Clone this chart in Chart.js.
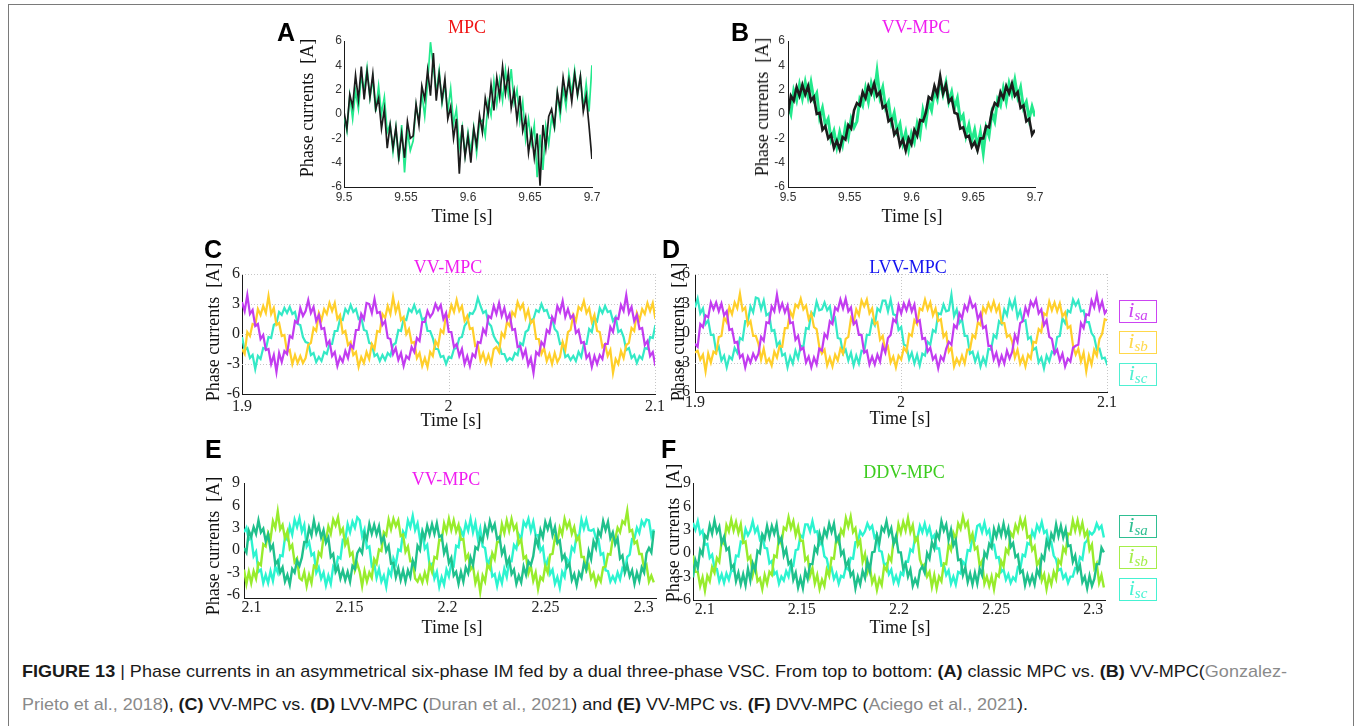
<!DOCTYPE html>
<html><head><meta charset="utf-8">
<script src="https://cdn.jsdelivr.net/npm/chart.js@4.4.1/dist/chart.umd.min.js"></script>
<style>
html,body{margin:0;padding:0;background:#fff;}
body{width:1356px;height:726px;position:relative;overflow:hidden;font-family:'Liberation Sans',Arial,sans-serif;}
#frame{position:absolute;left:8px;top:4px;width:1346px;height:760px;border:1.5px solid #7a7a7a;box-sizing:border-box;}
canvas{position:absolute;}
.lbl{position:absolute;font:bold 25px 'Liberation Sans',Arial,sans-serif;line-height:25px;color:#000;}
.ttl{position:absolute;width:240px;text-align:center;font:18px 'Liberation Serif','Times New Roman',serif;line-height:18px;white-space:nowrap;}
.ytl{position:absolute;font:18px 'Liberation Serif','Times New Roman',serif;line-height:18px;white-space:pre;transform:translate(-50%,-50%) rotate(-90deg);color:#111;}
.xtl{position:absolute;font:18px 'Liberation Serif','Times New Roman',serif;line-height:18px;white-space:nowrap;transform:translate(-50%,-50%);color:#111;}
.leg{position:absolute;width:38px;height:23px;box-sizing:border-box;border:1.5px solid;text-align:center;font:italic 22px 'Liberation Serif',serif;line-height:18px;white-space:nowrap;}
.leg sub{font-size:15px;vertical-align:baseline;position:relative;top:3px;}
.cap{position:absolute;left:22px;font:17px 'Liberation Sans',Arial,sans-serif;line-height:17px;white-space:nowrap;color:#1a1a1a;transform-origin:0 0;}
.ref{color:#8a8a8a;}
</style></head>
<body>
<div id="frame"></div>
<script>
// Panel A/B: time axis 9.5..9.7 s
const A_t0 = 9.5, A_dt = 0.002325;
const A_xTicks = [9.5, 9.55, 9.6, 9.65, 9.7];
const A_xTickLabels = ['9.5', '9.55', '9.6', '9.65', '9.7'];
const A_yTicks = [-6, -4, -2, 0, 2, 4, 6];
const A_yTickLabels = ['-6', '-4', '-2', '0', '2', '4', '6'];
const A_black = [0.2,-1.2,1.6,0.6,3.2,1.2,3.9,1.2,3.5,1.4,3.3,0.4,1.3,-1.2,0.4,-2.8,-0.9,-2.8,-1.1,-3.6,-1.6,-3.6,-0.6,-2.0,
 -1.8,0.8,-0.9,2.3,1.2,3.6,1.5,5.0,1.1,3.3,1.1,2.9,-0.4,0.6,-2.0,-0.4,-4.9,-0.9,-3.5,-1.8,-4.0,-1.2,-2.6,-0.1,
 -1.5,1.3,0.0,2.4,0.3,3.0,1.4,3.9,1.7,3.4,0.5,1.9,-0.5,1.5,-1.4,-0.3,-3.2,-1.5,-3.6,-1.6,-5.9,-0.9,-2.8,-0.2,
 0.4,-1.0,1.8,0.4,3.0,1.4,2.8,1.0,3.3,1.6,3.1,0.2,1.5,-1.0,-3.7];
const A_green = [-0.1,-1.4,1.5,-0.4,1.9,0.4,3.1,1.9,3.8,1.3,2.9,0.2,2.3,0.0,1.4,-1.5,-0.8,-3.1,-1.1,-3.9,-0.9,-4.8,-1.4,-3.0,
 -2.2,0.7,-0.6,1.7,-0.2,2.6,5.9,3.8,1.8,3.6,0.9,2.4,0.2,2.1,-0.8,0.4,-2.7,-1.1,-3.4,-1.5,-3.1,-1.1,-3.2,-0.7,
 -0.5,-1.8,1.0,-0.1,2.7,0.8,2.8,1.1,3.6,1.6,3.7,0.9,2.0,-0.6,1.0,-2.1,-0.4,-2.4,-0.9,-5.2,-1.7,-4.6,-1.0,-2.5,
 -0.3,-1.2,1.7,-0.2,2.1,0.6,3.3,1.7,3.6,1.5,3.1,0.4,2.5,0.2,4.0];
const B_black = [0.0,1.5,1.1,2.2,1.5,2.4,1.6,2.3,1.1,1.4,0.0,0.1,-1.3,-1.0,-2.0,-1.7,-2.8,-2.2,-2.9,-1.9,-2.1,-0.9,-1.2,0.3,
 0.9,0.7,1.8,1.3,2.3,1.7,2.5,1.5,1.8,0.5,0.7,-0.6,-0.4,-1.7,-1.3,-2.6,-2.1,-3.0,-2.0,-2.5,-1.3,-1.8,-0.5,-0.6,
 0.1,1.4,1.2,2.3,1.6,3.1,1.7,2.4,1.0,1.3,0.1,0.0,-1.2,-1.1,-1.9,-1.8,-2.7,-2.3,-3.0,-2.0,-2.0,-1.0,-1.1,0.2,
 0.9,0.7,1.8,1.3,2.3,1.7,2.5,1.5,1.8,0.5,0.7,-0.6,-0.4,-1.7,-1.3];
const B_green = [0.7,0.0,1.9,1.1,2.4,1.3,2.6,1.4,2.6,1.2,1.7,-0.3,0.5,-0.9,-0.4,-2.1,-1.4,-2.7,-1.5,-2.5,-1.0,-1.9,-0.4,-1.1,
 -0.6,1.2,0.7,2.1,1.0,2.5,1.6,3.5,1.4,2.2,0.5,1.0,-0.7,0.1,-1.4,-0.8,-2.4,-1.5,-2.9,-1.6,-2.3,-0.8,-1.7,0.3,
 -0.7,1.0,0.3,1.9,1.2,2.7,1.6,2.6,1.0,1.8,0.5,1.3,-0.5,-0.1,-1.8,-0.9,-2.2,-1.3,-2.7,-1.5,-3.2,-1.1,-1.8,0.1,
 -0.6,1.2,0.7,2.1,1.0,2.5,1.6,2.8,1.4,2.2,0.5,1.0,-0.4,0.6,-0.2];

// Panel C/D: time axis 1.9..2.1 s
const C_t0 = 1.9, C_dt = 0.0012833;
const D_t0 = 1.9, D_dt = 0.0012833;
const CD_xTicks = [1.9, 2, 2.1];
const CD_xTickLabels = ['1.9', '2', '2.1'];
const CD_yTicks = [-6, -3, 0, 3, 6];
const CD_yTickLabels = ['-6', '-3', '0', '3', '6'];
const C_isa = [3.2,2.3,3.9,2.0,2.4,0.8,1.0,-0.5,-0.1,-1.6,-1.5,-3.0,-2.1,-3.8,-1.9,-2.8,-1.7,-2.0,-0.2,-0.4,1.3,1.1,2.6,1.8,
 2.3,3.4,2.1,2.7,1.3,1.9,0.5,0.6,-1.1,-0.7,-2.2,-1.8,-3.2,-2.3,-2.8,-1.7,-2.4,-1.1,-1.4,0.4,0.4,2.0,1.5,3.1,
 3.0,2.1,3.5,2.1,2.2,0.9,1.3,-0.4,-0.5,-2.0,-1.4,-2.6,-1.9,-3.2,-2.2,-2.5,-1.3,-1.8,-0.4,-0.7,1.2,1.2,2.3,1.7,
 2.1,3.0,2.4,2.9,1.5,2.1,0.2,0.2,-1.3,-1.0,-2.2,-1.5,-3.0,-2.2,-3.2,-2.0,-2.3,-0.8,-0.9,0.5,0.0,1.8,1.6,2.8,
 2.0,3.1,1.8,2.6,1.4,2.0,0.4,0.5,-1.3,-1.2,-2.3,-1.6,-3.1,-2.4,-3.9,-1.8,-2.1,-0.8,-1.2,0.4,0.1,1.7,1.2,2.8,
 2.2,3.3,1.7,2.5,1.6,1.9,0.1,0.4,-0.9,-0.8,-2.4,-2.0,-3.3,-2.2,-3.0,-2.1,-2.5,-1.0,-1.0,0.7,0.2,1.6,1.5,2.9,
 2.3,3.9,2.1,2.7,1.3,1.9,0.5,0.6,-1.1,-0.7,-2.2,-1.8,-3.2];
const C_isb = [-1.5,-2.0,0.2,-0.2,1.0,0.9,2.5,1.9,2.8,2.1,3.8,2.0,2.6,0.9,1.1,-0.2,-0.1,-1.8,-1.6,-3.0,-2.1,-2.9,-2.2,-2.9,
 -2.4,-1.1,-0.9,0.6,0.3,2.1,1.4,2.5,2.0,3.1,2.3,3.1,1.5,1.9,0.1,0.3,-1.1,-0.8,-2.1,-1.8,-3.3,-2.3,-2.9,-1.8,
 -2.5,-1.0,-1.5,0.3,0.2,2.0,1.6,2.8,2.0,3.7,2.2,3.0,1.4,1.7,0.0,0.5,-0.9,-0.8,-2.4,-1.9,-3.2,-2.4,-3.3,-1.8,
 -2.2,-0.7,-1.2,0.4,0.1,1.9,1.7,2.9,2.2,3.4,2.3,2.8,1.3,1.8,0.5,0.6,-1.2,-1.1,-2.6,-1.9,-2.9,-2.1,-3.0,-1.5,
 -1.3,-1.8,0.1,-0.3,1.2,0.8,2.2,1.8,3.2,2.5,3.0,1.6,2.4,1.1,1.4,-0.5,-0.5,-2.0,-1.4,-2.7,-2.0,-3.0,-1.9,-2.8,
 -2.3,-0.8,-1.6,0.2,0.4,1.9,1.3,2.7,2.4,3.3,2.1,2.6,1.2,1.9,0.3,0.2,-1.3,-1.0,-2.2,-1.6,-3.9,-2.5,-3.0,-1.7,
 -2.4,-1.1,-0.9,0.6,0.3,2.1,1.4,2.5,2.0,3.1,2.3,3.1,1.5];
const C_isc = [-0.3,-1.6,-1.4,-2.4,-2.1,-3.5,-2.2,-2.5,-1.4,-1.5,-0.3,-0.4,0.9,1.1,2.2,1.9,2.6,2.1,2.7,2.0,2.2,1.0,0.9,-0.3,
 -0.8,-0.9,-2.1,-1.9,-2.8,-2.3,-2.7,-1.8,-2.0,-1.0,-1.0,0.3,0.3,1.5,1.4,2.5,2.1,2.9,2.2,2.5,1.5,1.7,0.4,0.3,
 -0.9,-1.0,-2.2,-2.0,-2.7,-2.1,-2.6,-1.9,-2.2,-1.1,-0.9,0.4,0.3,1.5,1.4,2.5,2.2,2.9,2.1,2.4,1.4,1.6,0.3,0.3,
 -0.4,-1.5,-1.5,-2.3,-2.2,-3.0,-2.3,-2.4,-1.5,-1.4,-0.4,-0.3,0.8,1.2,2.1,2.0,2.5,3.6,2.8,2.1,2.3,1.1,0.8,-0.2,
 -0.7,-1.0,-2.0,-2.0,-2.7,-2.4,-2.6,-1.9,-2.1,-0.9,-1.1,0.2,0.4,1.4,1.5,2.4,2.2,3.0,2.3,2.4,1.6,1.6,0.5,0.2,
 -1.0,-0.9,-2.3,-2.1,-2.6,-2.2,-2.7,-1.8,-2.3,-1.0,-1.0,0.5,0.2,1.6,1.3,2.6,2.1,2.8,2.2,2.3,1.3,1.7,0.2,0.4,
 -0.3,-1.6,-1.4,-2.4,-2.1,-2.9,-2.2,-2.5,-1.4,-1.5,-0.3,-0.4,0.9];
const D_isa = [-1.1,-1.4,0.9,0.6,1.8,1.6,3.1,2.4,3.1,2.2,3.0,1.8,2.2,0.3,0.4,-1.0,-0.9,-2.5,-2.2,-3.5,-2.4,-3.0,-2.1,-2.7,
 -2.1,-0.4,-0.8,1.1,1.0,2.7,2.2,3.9,2.3,3.0,2.1,2.8,1.0,1.1,-0.7,-0.3,-1.7,-1.5,-3.0,-2.4,-3.5,-2.5,-3.2,-1.6,
 -1.8,-0.1,-0.5,1.2,0.9,2.6,2.3,3.4,2.5,3.5,2.2,2.6,0.9,1.2,-0.2,-0.2,-2.0,-1.8,-3.2,-2.4,-3.2,-2.2,-2.9,-1.3,
 -2.0,-0.5,-0.2,1.4,1.1,2.8,2.0,3.0,2.3,3.2,2.2,2.9,1.1,1.3,-0.6,-0.5,-1.9,-1.5,-2.7,-2.3,-3.6,-2.4,-2.8,-1.6,
 -0.9,-1.2,0.8,0.5,2.0,1.5,2.8,2.3,3.5,2.6,2.9,1.4,2.0,0.5,0.7,-1.3,-1.3,-2.7,-2.0,-3.2,-2.3,-3.1,-1.8,-2.6,
 -1.9,-0.2,-0.9,1.0,1.2,2.6,1.9,3.2,2.7,3.4,2.0,2.4,0.8,1.3,-0.4,-0.6,-2.1,-1.7,-2.8,-2.1,-3.4,-2.6,-2.9,-1.5,
 -1.3,-1.2,1.0,0.5,1.9,1.8,3.3,2.6,3.9,2.4,3.2,2.0,2.4];
const D_isb = [-2.0,-1.8,-2.7,-2.2,-3.9,-2.1,-3.0,-1.9,-2.1,-0.4,-0.3,1.6,1.1,2.6,1.9,3.1,2.5,4.0,2.3,2.6,0.8,1.2,-0.3,-0.3,
 -1.1,-2.7,-1.6,-3.0,-2.6,-3.3,-1.9,-2.5,-1.3,-1.4,0.5,0.5,2.2,1.6,2.9,2.6,3.5,2.4,2.8,1.4,2.0,0.6,0.4,-1.4,
 -2.1,-1.7,-3.3,-2.5,-3.4,-2.2,-2.8,-1.6,-2.1,-0.6,-0.4,1.5,1.0,2.4,1.8,3.3,2.7,3.4,2.0,2.5,0.9,1.1,-0.7,-0.3,
 -1.8,-1.4,-3.0,-2.4,-3.5,-2.3,-2.7,-1.5,-1.9,-0.1,-0.3,1.3,0.9,2.5,2.3,3.4,2.4,3.1,1.8,2.5,1.2,1.4,-0.4,0.0,
 -1.9,-1.5,-3.4,-2.6,-3.2,-2.3,-3.1,-1.7,-1.7,-0.2,-0.5,1.1,0.8,2.6,2.1,3.0,2.3,3.2,2.2,2.8,1.0,1.0,-0.4,-0.2,
 -0.9,-2.5,-1.7,-3.1,-2.4,-3.4,-2.2,-2.6,-0.9,-1.0,0.4,0.1,2.0,1.8,3.2,2.3,3.1,2.2,3.0,1.7,2.1,0.5,0.7,-1.3,
 -2.2,-1.6,-2.9,-2.0,-3.9,-2.3,-3.2,-1.7,-2.3,-0.6,-0.1,1.4,1.3];
const D_isc = [2.6,3.5,2.0,2.5,0.9,1.3,-0.2,-0.2,-1.9,-1.4,-2.8,-2.3,-3.5,-2.4,-2.7,-1.5,-2.0,-0.5,-0.7,1.2,1.2,2.7,2.1,3.6,
 3.5,2.4,3.3,1.8,2.0,0.2,0.3,-1.3,-0.9,-2.3,-2.1,-3.5,-2.4,-3.1,-1.8,-2.6,-1.3,-1.4,0.5,0.4,2.1,1.8,3.2,2.3,
 2.4,3.1,2.3,2.7,1.1,1.5,-0.5,-0.6,-2.1,-1.7,-2.8,-2.0,-3.3,-2.3,-3.1,-1.8,-1.9,-0.2,-0.2,1.3,0.8,2.5,2.2,3.3,
 3.3,2.2,3.4,1.9,1.8,0.3,0.6,-1.2,-1.3,-2.7,-2.0,-3.1,-2.2,-3.3,-2.1,-2.3,-0.9,-1.2,0.3,0.1,2.0,1.9,2.9,2.2,
 2.3,3.9,1.7,2.4,1.0,1.4,-0.3,-0.3,-2.1,-1.9,-2.9,-2.1,-3.4,-2.5,-3.2,-1.6,-1.7,-0.2,-0.5,1.2,0.9,2.4,1.8,3.3,
 2.5,3.4,1.6,2.3,1.2,1.3,-0.6,-0.4,-1.7,-1.5,-3.0,-2.5,-3.6,-2.3,-2.9,-1.9,-2.1,-0.4,-0.3,1.5,1.0,2.3,2.1,3.4,
 2.8,3.3,2.2,2.3,1.1,1.1,0.0,-0.4,-1.7,-1.6,-2.6,-2.5,-3.3];

// Panel E/F: time axis about 2.095..2.306 s
const E_t0 = 2.0962, E_dt = 0.0012292;
const F_t0 = 2.094, F_dt = 0.0012292;
const EF_xTicks = [2.1, 2.15, 2.2, 2.25, 2.3];
const EF_xTickLabels = ['2.1', '2.15', '2.2', '2.25', '2.3'];
const EF_yTicks = [-6, -3, 0, 3, 6, 9];
const EF_yTickLabels = ['-6', '-3', '0', '3', '6', '9'];
const E_isa = [0.3,-0.3,2.6,1.8,3.1,2.2,4.0,2.4,2.9,1.2,2.1,0.1,0.7,-1.9,-1.4,-3.0,-2.3,-4.2,-3.3,-4.6,-2.5,-3.0,-1.4,-2.1,
 -1.0,1.1,1.1,3.0,2.0,4.0,2.3,3.3,1.7,2.7,1.0,1.7,-0.9,-0.5,-2.9,-2.2,-3.8,-2.7,-4.0,-2.9,-4.2,-2.1,-2.5,-0.4,
 0.2,-0.4,2.2,1.5,3.5,2.2,3.4,2.1,3.2,1.1,1.8,-0.1,0.6,-1.8,-1.7,-3.6,-2.4,-4.0,-2.7,-4.2,-2.7,-3.6,-1.4,-2.3,
 0.6,0.0,2.5,1.6,3.3,2.1,3.5,2.2,3.6,1.8,2.0,-0.4,0.5,-1.7,-1.0,-3.4,-2.9,-4.5,-2.9,-4.2,-2.3,-3.1,-1.0,-2.0,
 0.4,0.1,1.7,1.2,3.2,2.0,3.9,2.7,3.5,1.5,1.8,-0.5,0.3,-1.9,-1.1,-3.2,-2.6,-4.5,-3.4,-4.3,-2.2,-3.3,-1.5,-2.0,
 -0.8,1.6,0.6,2.7,1.7,3.8,2.8,3.9,2.0,3.1,1.0,1.3,-1.2,-0.6,-2.3,-1.8,-4.0,-3.2,-4.7,-3.0,-3.7,-1.8,-2.6,-0.1,
 -1.2,1.2,0.3,2.6,1.9,3.9,2.7,3.8,1.6,2.4,0.8,1.6,-1.1,-0.7,-3.0,-2.0,-3.5,-2.7,-4.5,-3.0,-4.1,-2.3,-3.0,-0.4,
 0.3,-0.3,2.6];
const E_isb = [-2.6,-4.5,-2.9,-4.4,-2.8,-3.8,-1.7,-2.0,0.8,0.5,2.3,1.5,3.9,3.0,5.2,2.8,3.4,1.6,2.5,0.2,0.7,-1.6,-1.1,-3.7,
 -4.0,-2.9,-4.8,-3.3,-4.4,-2.1,-2.4,-0.3,-0.8,1.8,1.3,3.2,2.2,4.1,3.3,4.4,2.3,2.9,0.7,1.4,-0.7,-0.3,-2.7,-1.8,
 -2.9,-4.8,-2.8,-4.2,-3.0,-3.7,-1.2,-1.8,0.1,-0.1,2.4,2.0,4.1,2.8,4.2,3.2,4.0,1.9,2.1,-0.2,0.5,-1.5,-1.5,-3.8,
 -4.2,-3.4,-4.3,-3.0,-4.1,-1.9,-2.9,-0.9,-1.1,1.4,1.3,3.6,2.5,4.2,2.7,4.0,2.5,3.4,1.4,1.5,-1.2,-0.6,-2.6,-2.1,
 -4.4,-3.3,-5.6,-3.4,-4.2,-2.0,-2.5,-0.4,-1.2,1.1,1.1,3.5,2.3,4.0,2.6,4.2,2.8,3.4,0.9,1.4,-1.1,-0.8,-3.1,-2.1,
 -4.1,-3.0,-5.2,-3.6,-4.0,-2.1,-3.0,-0.6,-0.5,1.7,1.0,3.0,2.1,4.2,3.0,3.8,2.2,3.1,1.3,1.8,-0.9,-0.9,-2.7,-2.0,
 -3.8,-3.1,-4.6,-3.5,-4.2,-2.3,-2.2,-0.5,-0.6,1.6,1.5,3.0,2.4,3.9,3.5,5.3,2.5,2.7,0.9,1.2,-0.5,-0.5,-2.5,-2.0,
 -4.2,-3.4,-4.3];
const E_isc = [2.4,3.0,1.4,1.7,-0.8,-0.2,-2.9,-2.6,-4.4,-3.3,-4.4,-2.8,-4.1,-2.2,-3.0,-0.7,-0.8,1.7,1.4,3.2,2.1,4.1,3.1,4.3,
 2.5,3.4,0.5,1.1,-0.7,-0.4,-3.0,-2.3,-3.8,-3.0,-4.7,-3.4,-4.5,-2.2,-2.7,-0.9,-1.1,1.4,1.3,3.5,2.4,3.8,3.0,4.4,
 4.0,1.9,2.8,0.3,0.5,-2.1,-1.7,-3.7,-2.5,-4.2,-3.4,-4.9,-2.7,-3.4,-1.1,-1.9,0.1,-0.1,2.5,1.9,4.0,3.1,4.6,2.7,
 3.6,1.5,2.5,0.2,0.7,-2.0,-1.8,-3.8,-2.9,-4.9,-3.6,-4.6,-2.6,-3.5,-1.8,-2.1,0.6,0.4,2.7,1.9,3.6,2.6,4.2,2.4,
 3.7,1.6,2.9,0.5,0.3,-2.0,-1.2,-3.5,-3.2,-4.8,-3.3,-4.4,-2.5,-3.6,-1.5,-1.5,0.7,0.2,2.1,1.5,3.8,3.2,4.2,2.6,
 3.8,2.0,2.0,-0.1,0.4,-2.2,-1.3,-3.2,-2.6,-4.5,-3.6,-5.0,-2.9,-3.6,-1.2,-1.7,0.4,-0.1,2.0,1.8,4.1,2.9,4.1,2.7,
 2.6,2.8,1.6,1.5,-0.6,-0.4,-2.7,-2.8,-4.2,-3.5,-4.2,-3.0,-3.9,-2.4,-2.8,-0.9,-0.6,1.5,1.6,3.0,2.3,3.9,3.3,4.1,
 4.0,1.9,2.8];
const F_isa = [-3.1,-0.9,-1.9,0.4,-0.2,2.3,1.9,3.6,2.5,4.2,2.7,3.4,1.3,2.1,0.4,0.7,-1.9,-1.5,-3.6,-2.5,-4.0,-2.7,-4.1,-2.0,
 -3.5,-1.3,-2.2,0.3,0.0,2.4,1.8,3.5,2.1,3.5,2.5,3.7,1.4,2.0,-0.3,0.5,-1.4,-1.0,-3.4,-2.5,-4.4,-3.2,-4.5,-2.3,
 -3.3,-1.4,-1.4,0.7,0.1,2.5,1.4,3.0,2.2,3.8,2.7,3.8,1.6,2.2,-0.2,0.3,-1.7,-1.0,-2.9,-2.4,-4.5,-3.0,-4.0,-2.3,
 -3.2,-1.0,-2.3,0.1,0.2,2.3,1.3,3.3,2.8,4.1,2.4,3.2,1.2,2.2,0.1,0.1,-2.0,-1.3,-3.0,-2.1,-4.2,-3.3,-4.1,-2.2,
 -1.7,-2.5,0.0,-0.7,1.4,0.6,2.6,1.9,4.1,2.9,3.7,1.7,3.0,1.0,1.7,-0.9,-0.8,-2.8,-1.8,-3.7,-2.6,-4.0,-2.5,-3.9,
 -2.0,-2.8,0.1,-0.5,1.2,0.7,3.1,2.1,3.4,2.3,3.8,2.2,3.2,0.8,1.3,-0.5,-0.2,-2.5,-2.2,-4.1,-2.8,-3.9,-2.9,-4.0,
 -2.1,-2.9,-0.3,-0.8,1.6,0.7,2.5,1.8,3.7,2.2,3.5,2.0,3.1,0.9,1.0,-1.1,-0.3,-2.3,-1.6,-3.7,-3.0,-4.5,-2.9,-4.2,
 -3.3,-1.4,-1.4,0.7,0.1];
const F_isb = [-0.3,-2.4,-2.4,-4.2,-3.1,-4.8,-2.9,-3.6,-1.8,-2.5,-0.6,-1.1,1.6,1.2,3.6,2.8,4.3,2.9,4.0,2.6,3.7,1.3,1.5,-0.8,
 -0.4,-2.8,-1.5,-3.6,-3.2,-4.6,-2.8,-3.9,-2.4,-2.8,-0.3,-0.5,2.0,1.2,3.3,3.0,4.6,3.2,4.1,2.3,3.4,1.6,1.6,-0.9,
 -0.5,-2.9,-1.9,-3.9,-2.8,-4.6,-3.4,-4.2,-2.1,-2.9,-0.6,-0.7,1.9,1.3,3.0,2.4,4.5,3.4,4.7,2.7,3.2,1.0,1.6,-1.1,
 -0.1,-2.5,-1.6,-3.8,-3.0,-4.7,-3.3,-4.1,-1.7,-2.2,-0.4,-1.0,1.8,1.4,3.7,2.6,4.0,2.9,4.5,2.7,3.6,1.5,2.0,-0.8,
 -1.7,-1.4,-3.0,-2.4,-4.3,-2.8,-4.5,-3.0,-3.6,-1.3,-1.4,1.1,0.4,2.6,1.8,3.8,3.1,4.7,3.4,4.0,1.7,2.5,0.5,0.8,
 -1.6,-1.0,-3.9,-3.0,-4.2,-3.0,-4.6,-2.7,-3.0,-1.0,-1.7,0.5,0.0,2.6,2.1,3.6,2.8,4.4,3.3,4.3,2.0,2.2,0.4,0.9,
 -1.5,-0.9,-3.5,-2.7,-4.6,-3.0,-4.0,-2.4,-3.3,-0.9,-1.4,0.7,0.1,2.5,2.4,4.2,2.9,4.2,2.7,3.9,2.2,2.8,0.4,1.1,
 -1.9,-1.3,-3.8,-2.8,-4.4];
const F_isc = [3.9,3.0,4.1,2.5,2.9,1.1,1.2,-0.6,-0.2,-1.9,-2.0,-3.6,-2.7,-3.8,-2.6,-3.4,-2.2,-2.3,-0.3,-0.4,1.5,1.4,3.1,2.3,
 2.9,4.1,2.7,3.3,1.8,2.3,0.7,0.6,-1.3,-1.0,-2.7,-2.4,-3.9,-3.0,-3.5,-2.3,-3.0,-1.4,-1.6,0.4,0.5,2.3,2.0,3.7,
 3.7,2.8,4.1,2.7,2.8,1.1,1.5,-0.4,-0.7,-2.3,-1.9,-3.3,-2.6,-3.9,-2.9,-3.1,-1.8,-2.1,-0.6,-0.7,1.4,1.5,2.8,2.3,
 2.8,3.8,3.1,3.5,2.0,2.4,0.3,0.2,-1.5,-1.3,-2.7,-2.1,-3.7,-2.9,-3.9,-2.5,-2.8,-1.1,-1.1,0.5,0.2,2.1,2.0,3.5,
 2.7,3.8,2.5,3.3,1.9,2.3,0.6,0.6,-1.6,-1.5,-2.8,-2.2,-3.9,-3.0,-4.0,-2.4,-2.6,-1.1,-1.5,0.4,0.3,2.0,1.7,3.5,
 3.7,2.7,3.9,2.5,3.0,1.1,1.1,-0.6,-0.5,-2.4,-2.1,-3.4,-2.7,-3.8,-3.1,-3.5,-1.8,-2.0,-0.2,-0.4,1.3,1.1,2.8,2.1,
 3.6,2.9,4.0,2.6,2.9,1.2,1.4,-0.3,-0.8,-2.2,-2.0,-3.2,-2.7,-3.8,-3.0,-3.0,-1.9,-2.0,-0.5,-0.8,1.3,1.6,2.7,2.4,
 2.8,3.8,3.1,3.5,2.0];

// ---------- STYLE / LAYOUT ----------
const COL = {
  black:'#1c1c1c', spring:'#22e98c',
  purple:'#c23cf0', gold:'#ffcf2a', turq:'#34e9c6',
  teal:'#1fc08c', lime:'#98ec2c', aqua:'#2cf4d0'
};

function pts(t0, dt, vals){ return vals.map((v,i)=>({x: t0 + i*dt, y: v})); }

const dottedGrid = {
  id:'dottedGrid',
  beforeDatasetsDraw(chart, args, opts){
    if (!opts || !opts.xs) return;
    const {ctx, chartArea:a, scales:{x, y}} = chart;
    ctx.save();
    ctx.strokeStyle = '#c6c6c6'; ctx.lineWidth = 1; ctx.setLineDash([1,2]);
    for (const v of opts.xs){ const px = Math.round(x.getPixelForValue(v)) + 0.5; ctx.beginPath(); ctx.moveTo(px, a.top); ctx.lineTo(px, a.bottom); ctx.stroke(); }
    for (const v of opts.ys){ const py = Math.round(y.getPixelForValue(v)) + 0.5; ctx.beginPath(); ctx.moveTo(a.left, py); ctx.lineTo(a.right, py); ctx.stroke(); }
    ctx.restore();
  }
};

function makeChart(L, P){
  const cv = document.createElement('canvas');
  cv.width = L.w; cv.height = L.h;
  cv.style.left = L.l + 'px'; cv.style.top = L.t + 'px';
  cv.style.width = L.w + 'px'; cv.style.height = L.h + 'px';
  document.body.appendChild(cv);
  const tickFont = P.sans ? {family:"'Liberation Sans', Arial, sans-serif", size:12} : {family:"'Liberation Serif', 'Times New Roman', serif", size:16};
  const tickColor = P.sans ? '#333' : '#222';
  return new Chart(cv.getContext('2d'), {
    type:'line',
    data:{datasets: P.series.map(s => ({data:s.data, borderColor:s.color, borderWidth:s.w || 1.2, pointRadius:0, fill:false, tension:0, borderJoinStyle:'miter'}))},
    options:{
      responsive:false, animation:false, devicePixelRatio:1, events:[],
      layout:{padding:{left:0, top:L.pt - L.t, right:L.l + L.w - L.pr, bottom:0}},
      plugins:{legend:{display:false}, tooltip:{enabled:false}, title:{display:false}, dottedGrid: P.grid || {}},
      scales:{
        x:{type:'linear', min:P.xmin, max:P.xmax,
           afterBuildTicks: s => { s.ticks = P.xTicks.map(v => ({value:v})); },
           afterFit: s => { s.height = L.t + L.h - L.pb; },
           grid:{display:false, drawTicks:false},
           border:{display:true, color:'#1a1a1a', width:1},
           ticks:{autoSkip:false, maxRotation:0, minRotation:0, padding:P.xPad, font:tickFont, color:tickColor,
                  callback:(v,i) => P.xLabels[i]}},
        y:{type:'linear', min:P.ymin, max:P.ymax,
           afterBuildTicks: s => { s.ticks = P.yTicks.map(v => ({value:v})); },
           afterFit: s => { s.width = L.pl - L.l; },
           grid:{display:false, drawTicks:false},
           border:{display:true, color:'#1a1a1a', width:1},
           ticks:{autoSkip:false, padding:P.yPad, font:tickFont, color:tickColor,
                  callback:(v,i) => P.yLabels[i]}}
      }
    },
    plugins:[dottedGrid]
  });
}

// Panel A
makeChart({l:280,t:15,w:330,h:215, pl:344,pt:41,pr:592,pb:187},
 {sans:true, xmin:9.5, xmax:9.7, ymin:-6, ymax:6, xTicks:A_xTicks, xLabels:A_xTickLabels, yTicks:A_yTicks, yLabels:A_yTickLabels, xPad:3.5, yPad:2,
  series:[{data:pts(A_t0,A_dt,A_black), color:COL.black, w:1.7}, {data:pts(A_t0,A_dt,A_green), color:COL.spring, w:1.7}]});
// Panel B
makeChart({l:725,t:15,w:330,h:215, pl:788,pt:41,pr:1035,pb:187},
 {sans:true, xmin:9.5, xmax:9.7, ymin:-6, ymax:6, xTicks:A_xTicks, xLabels:A_xTickLabels, yTicks:A_yTicks, yLabels:A_yTickLabels, xPad:3.5, yPad:3,
  series:[{data:pts(A_t0,A_dt,B_black), color:COL.black, w:2.6}, {data:pts(A_t0,A_dt,B_green), color:COL.spring, w:3}]});
// Panel C
makeChart({l:200,t:255,w:475,h:180, pl:242,pt:274,pr:655,pb:394},
 {xmin:1.9, xmax:2.1, ymin:-6, ymax:6, xTicks:CD_xTicks, xLabels:CD_xTickLabels, yTicks:CD_yTicks, yLabels:CD_yTickLabels, xPad:3, yPad:2,
  grid:{xs:[2,2.1], ys:[-3,0,3,6]},
  series:[{data:pts(C_t0,C_dt,C_isa), color:COL.purple, w:2.2}, {data:pts(C_t0,C_dt,C_isb), color:COL.gold, w:2.2}, {data:pts(C_t0,C_dt,C_isc), color:COL.turq, w:2.2}]});
// Panel D
makeChart({l:655,t:255,w:470,h:180, pl:695,pt:274,pr:1107,pb:392},
 {xmin:1.9, xmax:2.1, ymin:-6, ymax:6, xTicks:CD_xTicks, xLabels:CD_xTickLabels, yTicks:CD_yTicks, yLabels:CD_yTickLabels, xPad:1.5, yPad:5,
  grid:{xs:[2,2.1], ys:[-3,0,3,6]},
  series:[{data:pts(D_t0,D_dt,D_isa), color:COL.purple, w:2.2}, {data:pts(D_t0,D_dt,D_isb), color:COL.gold, w:2.2}, {data:pts(D_t0,D_dt,D_isc), color:COL.turq, w:2.2}]});
// Panel E
makeChart({l:200,t:465,w:475,h:175, pl:244,pt:483,pr:656,pb:598},
 {xmin:2.0962, xmax:2.3063, ymin:-6.4, ymax:9, xTicks:EF_xTicks, xLabels:EF_xTickLabels, yTicks:EF_yTicks, yLabels:EF_yTickLabels, xPad:0, yPad:4,
  series:[{data:pts(E_t0,E_dt,E_isa), color:COL.teal, w:2.4}, {data:pts(E_t0,E_dt,E_isb), color:COL.lime, w:2.4}, {data:pts(E_t0,E_dt,E_isc), color:COL.aqua, w:2.4}]});
// Panel F
makeChart({l:650,t:465,w:475,h:175, pl:693,pt:483,pr:1105,pb:600},
 {xmin:2.094, xmax:2.306, ymin:-6, ymax:9, xTicks:EF_xTicks, xLabels:EF_xTickLabels, yTicks:EF_yTicks, yLabels:EF_yTickLabels, xPad:0.5, yPad:2,
  series:[{data:pts(F_t0,F_dt,F_isa), color:COL.teal, w:2.4}, {data:pts(F_t0,F_dt,F_isb), color:COL.lime, w:2.4}, {data:pts(F_t0,F_dt,F_isc), color:COL.aqua, w:2.4}]});
</script>

<!-- panel letters -->
<div class="lbl" style="left:277px;top:20px">A</div>
<div class="lbl" style="left:731px;top:20px">B</div>
<div class="lbl" style="left:204px;top:237px">C</div>
<div class="lbl" style="left:662px;top:237px">D</div>
<div class="lbl" style="left:205px;top:437px">E</div>
<div class="lbl" style="left:661px;top:437px">F</div>

<!-- panel titles -->
<div class="ttl" style="left:347px;top:18px;color:#f01414">MPC</div>
<div class="ttl" style="left:796px;top:18px;color:#f01ef0">VV-MPC</div>
<div class="ttl" style="left:328px;top:258px;color:#f01ef0">VV-MPC</div>
<div class="ttl" style="left:788px;top:258px;color:#1414f0">LVV-MPC</div>
<div class="ttl" style="left:326px;top:470px;color:#f01ef0">VV-MPC</div>
<div class="ttl" style="left:784px;top:463px;color:#3ccc1e">DDV-MPC</div>

<!-- axis titles -->
<div class="ytl" style="left:307px;top:108px">Phase currents  [A]</div>
<div class="ytl" style="left:762px;top:107px">Phase currents  [A]</div>
<div class="ytl" style="left:213px;top:332px">Phase currents  [A]</div>
<div class="ytl" style="left:678px;top:332px">Phase currents  [A]</div>
<div class="ytl" style="left:213px;top:546px">Phase currents  [A]</div>
<div class="ytl" style="left:673px;top:533px">Phase currents  [A]</div>
<div class="xtl" style="left:462px;top:216px">Time [s]</div>
<div class="xtl" style="left:912px;top:216px">Time [s]</div>
<div class="xtl" style="left:451px;top:420px">Time [s]</div>
<div class="xtl" style="left:900px;top:418px">Time [s]</div>
<div class="xtl" style="left:452px;top:627px">Time [s]</div>
<div class="xtl" style="left:900px;top:627px">Time [s]</div>

<!-- legends -->
<div class="leg" style="left:1119px;top:300px;color:#cc44f2;border-color:#cc44f2">i<sub>sa</sub></div>
<div class="leg" style="left:1119px;top:331px;color:#ffd84a;border-color:#ffd84a">i<sub>sb</sub></div>
<div class="leg" style="left:1119px;top:363px;color:#4ff0d2;border-color:#4ff0d2">i<sub>sc</sub></div>
<div class="leg" style="left:1119px;top:515px;color:#2fbf92;border-color:#2fbf92">i<sub>sa</sub></div>
<div class="leg" style="left:1119px;top:546px;color:#a5ee4a;border-color:#a5ee4a">i<sub>sb</sub></div>
<div class="leg" style="left:1119px;top:578px;color:#45f2d2;border-color:#45f2d2">i<sub>sc</sub></div>

<!-- caption -->
<div class="cap" id="cap1" style="top:663px"><b>FIGURE 13</b> | Phase currents in an asymmetrical six-phase IM fed by a dual three-phase VSC. From top to bottom: <b>(A)</b> classic MPC vs. <b>(B)</b> VV-MPC(<span class="ref">Gonzalez-</span></div>
<div class="cap" id="cap2" style="top:696px"><span class="ref">Prieto et al., 2018</span>), <b>(C)</b> VV-MPC vs. <b>(D)</b> LVV-MPC (<span class="ref">Duran et al., 2021</span>) and <b>(E)</b> VV-MPC vs. <b>(F)</b> DVV-MPC (<span class="ref">Aciego et al., 2021</span>).</div>
<script>
for (const [id, target] of [['cap1', 1265], ['cap2', 1006]]) {
  const el = document.getElementById(id);
  const w = el.getBoundingClientRect().width;
  el.style.transform = 'scaleX(' + (target / w) + ')';
}
</script>
</body></html>
